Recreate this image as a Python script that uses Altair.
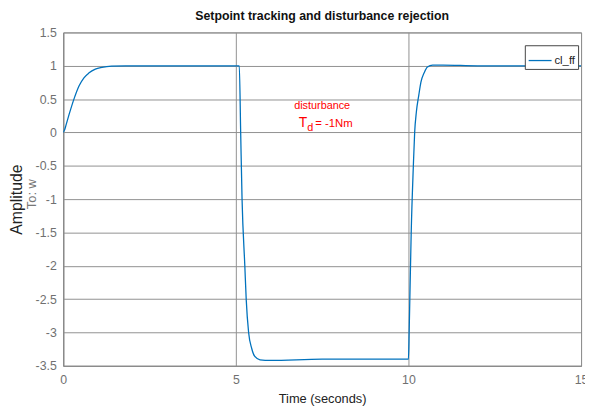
import altair as alt
import pandas as pd

# ---- data ----
time_s = [0, 0.04, 0.08, 0.17, 0.31, 0.46, 0.6, 0.74, 0.93, 1.12, 1.4, 1.8, 2.5, 5.1,
          5.14, 5.18, 5.26, 5.3, 5.37, 5.46, 5.55, 5.7, 6.0, 7.5, 10.0,
          10.02, 10.04, 10.08, 10.14, 10.18, 10.23, 10.3, 10.36, 10.46, 10.55, 10.7, 11.0, 12.0, 15.0]
amplitude = [0, 0.04, 0.11, 0.27, 0.5, 0.7, 0.82, 0.89, 0.95, 0.976, 0.995, 1.0, 1.0, 1.0,
             0.0, -1.0, -2.0, -2.5, -3.0, -3.24, -3.36, -3.41, -3.42, -3.40, -3.40,
             -3.0, -2.5, -1.5, -0.53, 0.0, 0.31, 0.56, 0.75, 0.9, 0.98, 1.01, 1.01, 1.0, 1.0]
series_name = "cl_ff"

x_ticks = [0, 5, 10, 15]
y_ticks = [1.5, 1, 0.5, 0, -0.5, -1, -1.5, -2, -2.5, -3, -3.5]

ann_x = [7.5, 6.82, 7.07, 7.3]
ann_y = [0.35, 0.089, 0.015, 0.089]
ann_text = ["disturbance", "T", "d", "= -1Nm"]

FONT = "Liberation Sans, Arial, sans-serif"
GRID = "#909090"

df = pd.DataFrame({"t": time_s, "y": amplitude, "series": series_name})

xs = alt.Scale(domain=[0, 15], nice=False, zero=False)
ys = alt.Scale(domain=[-3.5, 1.5], nice=False, zero=False)

line = alt.Chart(df).mark_line(interpolate="monotone", strokeWidth=1.3, clip=True).encode(
    x=alt.X("t:Q", scale=xs, axis=alt.Axis(
        title="Time (seconds)", values=x_ticks, tickCount=20, grid=True, gridColor=GRID, ticks=False,
        labelFlush=False, labelOverlap=False,
        labelFont=FONT, labelFontSize=12.5, labelColor="#707070", labelPadding=8,
        titleFont=FONT, titleFontSize=13, titleFontWeight="normal", titleColor="#222",
        titlePadding=7, domainColor="#888")),
    y=alt.Y("y:Q", scale=ys, axis=alt.Axis(
        title="Amplitude", values=y_ticks, tickCount=20, grid=True, gridColor=GRID, ticks=False,
        labelExpr="datum.value + ''", labelOverlap=False, labelFlush=False,
        labelFont=FONT, labelFontSize=12.5, labelColor="#707070", labelPadding=7,
        titleFont=FONT, titleFontSize=16, titleFontWeight="normal", titleColor="#222",
        titleAngle=270, titleX=-47, titleY=169, titleAlign="center", titleBaseline="middle",
        domainColor="#888")),
    color=alt.Color("series:N", scale=alt.Scale(range=["#0072BD"]), legend=alt.Legend(
        title=None, orient="none", legendX=468, legendY=13,
        symbolType="stroke", symbolSize=540, symbolStrokeWidth=1.3,
        labelFont=FONT, labelFontSize=11.5, labelColor="#222", labelOffset=2,
        strokeColor="#444", fillColor="white", padding=3, cornerRadius=0)),
)

adf = pd.DataFrame({"x": ann_x, "y": ann_y, "text": ann_text})


def ann(i, size):
    return alt.Chart(adf.iloc[[i]]).mark_text(
        font=FONT, fontSize=size, color="#ff0000",
        align="center" if i == 0 else "left", baseline="alphabetic").encode(
        x=alt.X("x:Q", scale=xs), y=alt.Y("y:Q", scale=ys), text="text:N")


sub = alt.Chart(pd.DataFrame({"s": ["To: w"]})).mark_text(
    font=FONT, fontSize=13, color="#777", angle=270, align="center", baseline="middle").encode(
    x=alt.value(-32), y=alt.value(164), text="s:N")

chart = alt.layer(line, ann(0, 11), ann(1, 14), ann(2, 11), ann(3, 11.5), sub).properties(
    width=525, height=338,
    title=alt.Title("Setpoint tracking and disturbance rejection", font=FONT, fontSize=12.5,
                    fontWeight="bold", color="#111", offset=4, anchor="middle"),
    autosize=alt.AutoSizeParams(type="none"),
    padding={"left": 56, "top": 22, "right": 4, "bottom": 40},
    background="white",
).configure_view(stroke="#888", strokeWidth=1)

chart.save("out.html", embed_options={"renderer": "svg", "actions": False})
